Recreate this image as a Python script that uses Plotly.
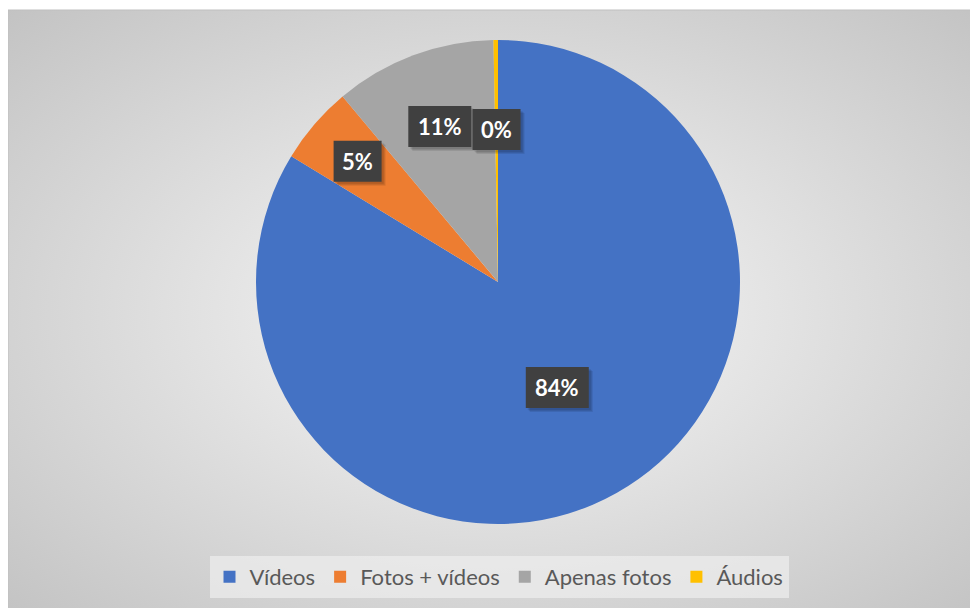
import base64, math
import plotly.graph_objects as go

categories = ["Vídeos", "Fotos + vídeos", "Apenas fotos", "Áudios"]
values = [83.7, 5.2, 10.8, 0.3]
label_texts = ["84%", "5%", "11%", "0%"]
colors = ["#4472C4", "#ED7D31", "#A5A5A5", "#FFC000"]
label_radius = [0.5, 0.765, 0.686, 0.63]

W, H = 978, 608
ml, mt = 0, 2
pw, ph = W - ml, H - mt
OX, OY = 8, 8  # page offset of the figure

def px_x(sx):
    return (sx - OX - ml) / pw

def px_y(sy):
    return 1 - (sy - OY - mt) / ph

dom_x = [px_x(256), px_x(740)]
dom_y = [px_y(524), px_y(40)]

svg = f'''<svg xmlns="http://www.w3.org/2000/svg" width="{pw}" height="{ph}" viewBox="0 0 {pw} {ph}" preserveAspectRatio="none">
<defs><radialGradient id="g" cx="50%" cy="50%" r="72%">
<stop offset="0" stop-color="#f9f9f9"/><stop offset="1" stop-color="#c2c2c2"/>
</radialGradient></defs><rect width="{pw}" height="{ph}" fill="url(#g)"/></svg>'''
src = "data:image/svg+xml;base64," + base64.b64encode(svg.encode()).decode()

fig = go.Figure(go.Pie(
    labels=categories, values=values, sort=False, direction="clockwise", rotation=0,
    marker=dict(colors=colors, line=dict(width=0)),
    textinfo="none", hoverinfo="label+percent",
    domain=dict(x=dom_x, y=dom_y),
))

cx = (dom_x[0] + dom_x[1]) / 2
cy = (dom_y[0] + dom_y[1]) / 2
r_px = min((dom_x[1] - dom_x[0]) * pw, (dom_y[1] - dom_y[0]) * ph) / 2
total = sum(values)
cum = 0
annotations = []
shapes = [dict(type="rect", xref="paper", yref="paper", x0=0, y0=0, x1=1, y1=1,
               line=dict(color="#bfbfbf", width=1))]
for v, t, f in zip(values, label_texts, label_radius):
    mid = (cum + v / 2) / total * 2 * math.pi
    cum += v
    ax = cx + math.sin(mid) * r_px * f / pw
    ay = cy + math.cos(mid) * r_px * f / ph
    bw = 18 + 15 * len(t)
    bh = 41
    for k, dx in enumerate((4, 3, 2)):
        shapes.append(dict(type="rect", xref="paper", yref="paper", layer="above",
                           x0=ax - bw / 2 / pw + dx / pw, x1=ax + bw / 2 / pw + dx / pw,
                           y0=ay - bh / 2 / ph - dx / ph, y1=ay + bh / 2 / ph - dx / ph,
                           fillcolor="rgba(0,0,0,0.09)", line=dict(width=0)))
    shapes.append(dict(type="rect", xref="paper", yref="paper", layer="above",
                       x0=ax - bw / 2 / pw, x1=ax + bw / 2 / pw,
                       y0=ay - bh / 2 / ph, y1=ay + bh / 2 / ph,
                       fillcolor="#404040", line=dict(width=0)))
    annotations.append(dict(x=ax, y=ay, xref="paper", yref="paper", showarrow=False,
                            xanchor="center", yanchor="middle",
                            text=f"<b>{t}</b>",
                            font=dict(family="Lato, Open Sans, sans-serif", size=22, color="white")))

fig.update_layout(
    width=W, height=H,
    margin=dict(l=ml, r=0, t=mt, b=0),
    paper_bgcolor="white",
    images=[dict(source=src, xref="paper", yref="paper", x=0, y=1, sizex=1, sizey=1,
                 sizing="stretch", xanchor="left", yanchor="top", layer="below")],
    shapes=shapes,
    legend=dict(orientation="h", x=px_x(499), xanchor="center", y=px_y(577), yanchor="middle",
                bgcolor="rgba(236,236,236,0.75)", font=dict(family="Lato, sans-serif", size=22, color="#595959"),
                itemsizing="constant", traceorder="normal", itemwidth=30),
    annotations=annotations,
    showlegend=True,
)
fig.write_html("out.html")
